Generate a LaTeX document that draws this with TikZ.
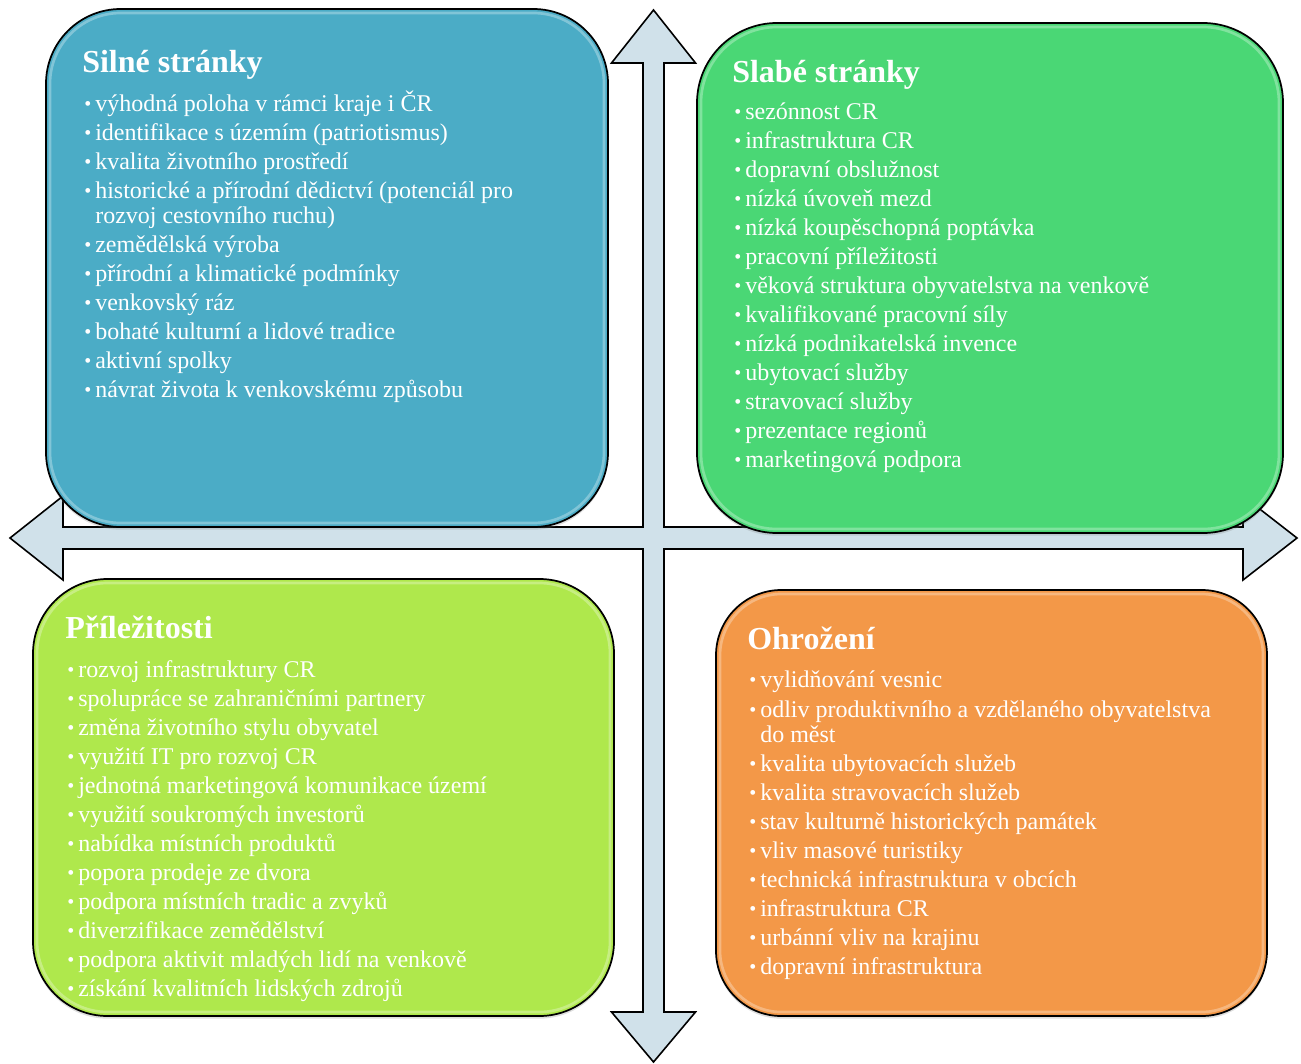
\documentclass[tikz,border=0pt]{standalone}
\usepackage{fontspec}
\setmainfont{Liberation Serif}
\usetikzlibrary{shadows}
\definecolor{cblue}{HTML}{4BACC6}
\definecolor{cgreen}{HTML}{4AD775}
\definecolor{clime}{HTML}{AFE84C}
\definecolor{corange}{HTML}{F39848}
\definecolor{carrow}{HTML}{D0E1EA}
\newcommand\bul[1]{\makebox[8.25pt][l]{\raisebox{0.6pt}{\fontsize{15}{15}\selectfont •}}#1}
\begin{document}
\begin{tikzpicture}[x=0.75pt,y=-0.75pt,
  box/.style={draw=black,line width=1.3pt,drop shadow={shadow xshift=0pt,shadow yshift=-2pt,opacity=0.25}},
  gloss/.style={draw=white,opacity=0.3,line width=2pt},
  ttl/.style={anchor=base west,inner sep=0pt,text=white,font=\fontsize{24}{28}\selectfont\bfseries},
  itm/.style={anchor=base west,inner sep=0pt,text=white,font=\fontsize{18}{22}\selectfont}]
\useasboundingbox (0,0) rectangle (1301,1063);
% cross arrow
\draw[fill=carrow,line width=1.2pt,line join=miter]
  (653.5,10) -- (695.5,63) -- (664,63) -- (664,527) -- (1243,527) -- (1243,496)
  -- (1297,538) -- (1243,580) -- (1243,549) -- (664,549) -- (664,1012) -- (695.5,1012)
  -- (653.5,1062) -- (611.5,1012) -- (643,1012) -- (643,549) -- (63,549) -- (63,580)
  -- (10,538) -- (63,496) -- (63,527) -- (643,527) -- (643,63) -- (611.5,63) -- cycle;
% boxes
\path[box,fill=cblue,rounded corners=56pt] (46,9) rectangle (608,527);
\draw[gloss,rounded corners=53pt] (50,13) rectangle (604,523);
\path[box,fill=cgreen,rounded corners=60pt] (697,23) rectangle (1283,533);
\draw[gloss,rounded corners=57pt] (701,27) rectangle (1279,529);
\path[box,fill=clime,rounded corners=56pt] (33,579) rectangle (614,1016);
\draw[gloss,rounded corners=53pt] (37,583) rectangle (610,1012);
\path[box,fill=corange,rounded corners=49pt] (716,590) rectangle (1267,1016);
\draw[gloss,rounded corners=46pt] (720,594) rectangle (1263,1012);
% Silné stránky
\node[ttl] (t1) at (82,73) {Silné stránky};
\foreach \t/\y [count=\i] in {výhodná poloha v rámci kraje i ČR/111,
  identifikace s územím (patriotismus)/140,
  kvalita životního prostředí/169,
  historické a přírodní dědictví (potenciál pro/198,
  zemědělská výroba/252,
  přírodní a klimatické podmínky/281,
  venkovský ráz/310,
  bohaté kulturní a lidové tradice/339,
  aktivní spolky/368,
  návrat života k venkovskému způsobu/397}
  \node[itm] (s\i) at (84,\y) {\bul{\t}};
\node[itm] (s4b) at (95,223) {rozvoj cestovního ruchu)};
% Slabé stránky
\node[ttl] (t2) at (732,82) {Slabé stránky};
\foreach \t/\y [count=\i] in {sezónnost CR/119,
  infrastruktura CR/148,
  dopravní obslužnost/177,
  nízká úvoveň mezd/206,
  nízká koupěschopná poptávka/235,
  pracovní příležitosti/264,
  věková struktura obyvatelstva na venkově/293,
  kvalifikované pracovní síly/322,
  nízká podnikatelská invence/351,
  ubytovací služby/380,
  stravovací služby/409,
  prezentace regionů/438,
  marketingová podpora/467}
  \node[itm] (w\i) at (734,\y) {\bul{\t}};
% Příležitosti
\node[ttl] (t3) at (65,638) {Příležitosti};
\foreach \t/\y [count=\i] in {rozvoj infrastruktury CR/677,
  spolupráce se zahraničními partnery/706,
  změna životního stylu obyvatel/735,
  využití IT pro rozvoj CR/764,
  jednotná marketingová komunikace území/793,
  využití soukromých investorů/822,
  nabídka místních produktů/851,
  popora prodeje ze dvora/880,
  podpora místních tradic a zvyků/909,
  diverzifikace zemědělství/938,
  podpora aktivit mladých lidí na venkově/967,
  získání kvalitních lidských zdrojů/996}
  \node[itm] (p\i) at (67,\y) {\bul{\t}};
% Ohrožení
\node[ttl] (t4) at (747,649) {Ohrožení};
\foreach \t/\y [count=\i] in {vylidňování vesnic/687,
  odliv produktivního a vzdělaného obyvatelstva/717,
  kvalita ubytovacích služeb/771,
  kvalita stravovacích služeb/800,
  stav kulturně historických památek/829,
  vliv masové turistiky/858,
  technická infrastruktura v obcích/887,
  infrastruktura CR/916,
  urbánní vliv na krajinu/945,
  dopravní infrastruktura/974}
  \node[itm] (o\i) at (749,\y) {\bul{\t}};
\node[itm] (o2b) at (760,742) {do měst};
\end{tikzpicture}
\end{document}
